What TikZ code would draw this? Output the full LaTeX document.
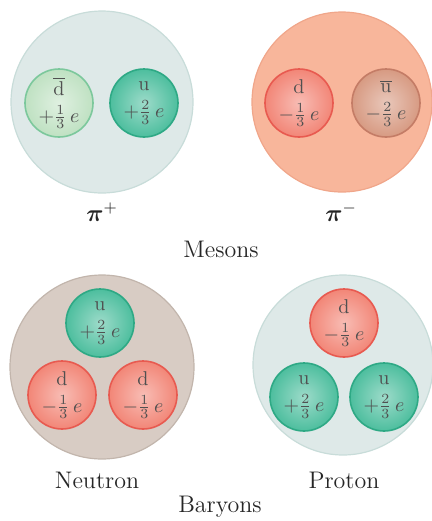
\documentclass[tikz,border=0pt]{standalone}
\usepackage{amsmath,bm}
\definecolor{bgblue}{HTML}{DEE9E8}
\definecolor{bgblueB}{HTML}{C8DCD9}
\definecolor{bgsalmon}{HTML}{F8B69B}
\definecolor{bgsalmonB}{HTML}{F0A68A}
\definecolor{bggray}{HTML}{D8CCC4}
\definecolor{bggrayB}{HTML}{C2B5AC}
\definecolor{qgreen}{HTML}{BFE1C2}
\definecolor{qgreenB}{HTML}{7CC89C}
\definecolor{qteal}{HTML}{4DBE9E}
\definecolor{qtealB}{HTML}{2EA985}
\definecolor{qred}{HTML}{F28677}
\definecolor{qredB}{HTML}{E85A50}
\definecolor{qbrown}{HTML}{D79A82}
\definecolor{qbrownB}{HTML}{C47C66}
\definecolor{qtext}{HTML}{505050}
\tikzset{
  hadron/.style={circle, minimum size=#1, inner sep=0pt, line width=0.6pt},
  quark/.style={circle, minimum size=34pt, inner sep=0pt, line width=0.8pt,
     text=qtext, font=\normalsize, align=center},
  upq/.style={quark, draw=qtealB, inner color=qteal!55!white, outer color=qteal},
  downq/.style={quark, draw=qredB, inner color=qred!55!white, outer color=qred},
  adownq/.style={quark, draw=qgreenB, inner color=qgreen!50!white, outer color=qgreen},
  aupq/.style={quark, draw=qbrownB, inner color=qbrown!55!white, outer color=qbrown},
  lbl/.style={font=\large, text=black!85},
}
\newcommand{\qtxt}[3]{$\mathrm{#1}$\\[1.5pt]$#2\tfrac{#3}{3}\,e$}
\begin{document}
\begin{tikzpicture}[x=0.5pt,y=-0.5pt]
\useasboundingbox (0,0) rectangle (432,521);
% mesons
\node[hadron=91pt, fill=bgblue, draw=bgblueB] (pip) at (102,102) {};
\node[adownq] (pipd) at (59,103) {\qtxt{\overline{d}}{+}{1}};
\node[upq] (pipu) at (144,103) {\qtxt{u}{+}{2}};
\node[hadron=90pt, fill=bgsalmon, draw=bgsalmonB] (pim) at (342,102) {};
\node[downq] (pimd) at (299,103) {\qtxt{d}{-}{1}};
\node[aupq] (pimu) at (386,103) {\qtxt{\overline{u}}{-}{2}};
\node[lbl] (lpip) at (102,212) {$\bm{\pi}^{+}$};
\node[lbl] (lpim) at (341,212) {$\bm{\pi}^{-}$};
\node[lbl] (lmes) at (221,249) {Mesons};
% baryons
\node[hadron=92pt, fill=bggray, draw=bggrayB] (neu) at (102,367) {};
\node[upq] (neuu) at (100,323) {\qtxt{u}{+}{2}};
\node[downq] (neud1) at (62,395) {\qtxt{d}{-}{1}};
\node[downq] (neud2) at (143,395) {\qtxt{d}{-}{1}};
\node[hadron=90pt, fill=bgblue, draw=bgblueB] (pro) at (343,365) {};
\node[downq] (prod) at (344,323) {\qtxt{d}{-}{1}};
\node[upq] (prou1) at (304,397) {\qtxt{u}{+}{2}};
\node[upq] (prou2) at (384,397) {\qtxt{u}{+}{2}};
\node[lbl] (lneu) at (97,480) {Neutron};
\node[lbl] (lpro) at (344,480) {Proton};
\node[lbl] (lbar) at (220,507) {Baryons};
\end{tikzpicture}
\end{document}
